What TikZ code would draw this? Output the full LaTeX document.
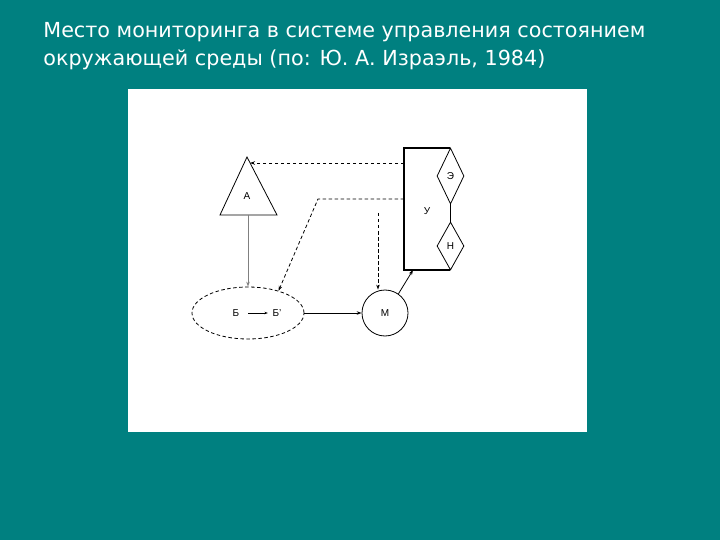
\documentclass[tikz,border=0pt]{standalone}
\usepackage{fontspec}
\setmainfont{DejaVu Sans}
\newfontfamily\diagfont{Liberation Sans}
\usetikzlibrary{arrows.meta, positioning, shapes.geometric}
\definecolor{slideteal}{RGB}{0,128,128}

\begin{document}
\begin{tikzpicture}[x=1pt, y=-1pt, line width=0.8pt,
    font=\diagfont\fontsize{10}{11}\selectfont,
    >={Stealth[length=5pt, width=3.5pt]},
    dsh/.style={dash pattern=on 3.5pt off 2.5pt},
    rhomb/.style={diamond, draw, inner sep=0pt, minimum width=27pt}]
\fill[slideteal] (0,0) rectangle (720,540);
\useasboundingbox (0,0) rectangle (720,540);
\node[anchor=north west, align=left, text=white, inner sep=0pt,
      font=\fontsize{20.7}{28}\selectfont] (title) at (43,22)
  {Место мониторинга в системе управления состоянием\\окружающей среды (по: Ю. А. Израэль, 1984)};
\fill[white] (128,89) rectangle (587,432);

% triangle A
\draw (247,157) coordinate (apex) -- (277,215) -- (220,215) -- cycle;
\node (A) at (247,196) {А};
\coordinate (base) at (248,215);

% control block U with the two rhombs
\draw[line width=1.2pt] (450,148) -- (404,148) -- (404,270) -- (450,270);
\node (U) at (427,211) {У};
\node[rhomb, minimum height=56pt] (E) at (450.5,176) {Э};
\node[rhomb, minimum height=48pt] (H) at (450.5,246) {Н};
\draw (E.south) -- (H.north);

% state B -> B'
\node[ellipse, draw, dsh, minimum width=112pt, minimum height=52pt] (B) at (248,313) {};
\node (b1) at (236,313) {Б};
\node (b2) at (277,313) {Б’};
\draw[->, line width=0.6pt, shorten <=5pt, shorten >=1pt,
      >={Stealth[length=3.5pt, width=2.5pt]}] (b1) -- (b2);

% monitoring M
\node[circle, draw, minimum size=46pt] (M) at (385,313) {М};

% connectors
\draw[dsh, ->] (404,163) -- (250,163);
\draw[dsh, ->] (404,199) -- (318,199) -- (B.36);
\draw[gray, ->] (base) -- (B.north);
\draw[dsh, ->] (378,213) coordinate (v) -- (v |- M.north);
\draw[->] (B.east) -- (M.west);
\draw[->] (M.55) -- (413,270);
\end{tikzpicture}
\end{document}
